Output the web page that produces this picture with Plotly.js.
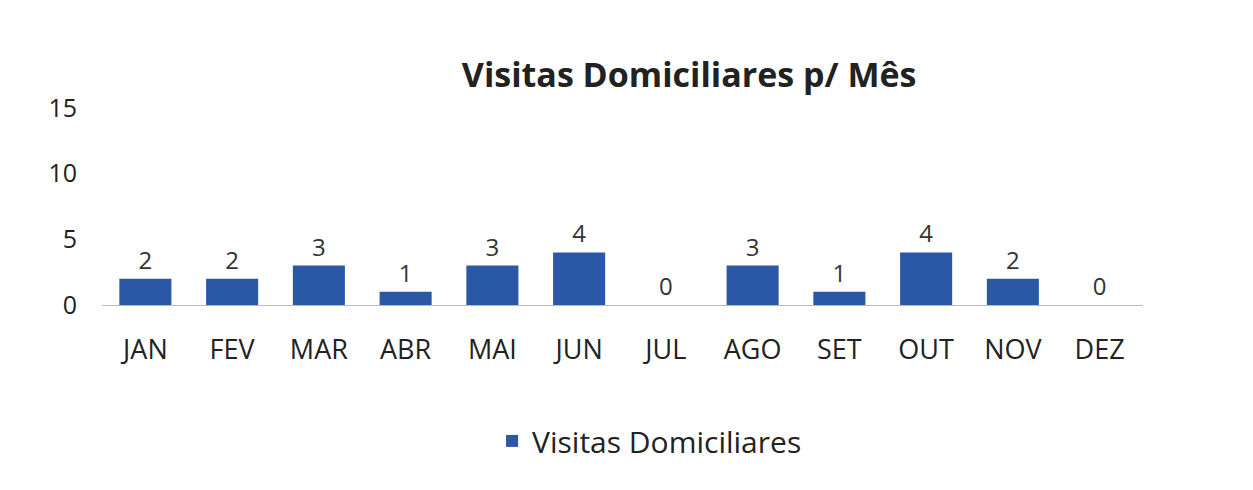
<!DOCTYPE html>
<html>
<head>
<meta charset="utf-8">
<script src="https://cdn.plot.ly/plotly-3.0.1.min.js"></script>
<style>html,body{margin:0;padding:0;background:#fff;}#chart{width:1253px;height:490px;}</style>
</head>
<body>
<div id="chart"></div>
<script>
const months = ["JAN","FEV","MAR","ABR","MAI","JUN","JUL","AGO","SET","OUT","NOV","DEZ"];
const visitas = [2,2,3,1,3,4,0,3,1,4,2,0];
const yTicks = [0,5,10,15];
const seriesName = "Visitas Domiciliares";
const chartTitle = "Visitas Domiciliares p/ Mês";

const trace = {
  type: "bar",
  x: months,
  y: visitas,
  name: seriesName,
  marker: {color: "#2a58a6"},
  text: visitas.map(String),
  textposition: "outside",
  cliponaxis: false,
  textfont: {family: "Open Sans, Lato, sans-serif", size: 24, color: "#333"}
};

const layout = {
  width: 1253, height: 490,
  margin: {l: 102, r: 110, t: 108, b: 185},
  paper_bgcolor: "#fff", plot_bgcolor: "#fff",
  font: {family: "Open Sans, Lato, sans-serif", color: "#222"},
  title: {text: "<b>" + chartTitle + "</b>", x: 0.55, xref: "container", xanchor: "center",
          y: 1 - 75/490, yref: "container", yanchor: "middle",
          font: {size: 34, color: "#222", family: "Open Sans, Lato, sans-serif"}},
  bargap: 0.4,
  showlegend: true,
  legend: {orientation: "h", x: 0.526, xanchor: "center", y: -0.69, yanchor: "middle",
           font: {size: 30, color: "#222"}},
  xaxis: {showgrid: false, zeroline: false, showline: false, ticks: "",
          tickfont: {size: 27, color: "#222"}, ticklabelstandoff: 26},
  yaxis: {range: [0, 15], tickvals: yTicks, showgrid: false, zeroline: true,
          zerolinecolor: "#bbb", zerolinewidth: 1, showline: false, ticks: "",
          tickfont: {size: 25, color: "#222"}, ticklabelstandoff: 24}
};

Plotly.newPlot("chart", [trace], layout, {displayModeBar: false, staticPlot: true});
</script>
</body>
</html>
